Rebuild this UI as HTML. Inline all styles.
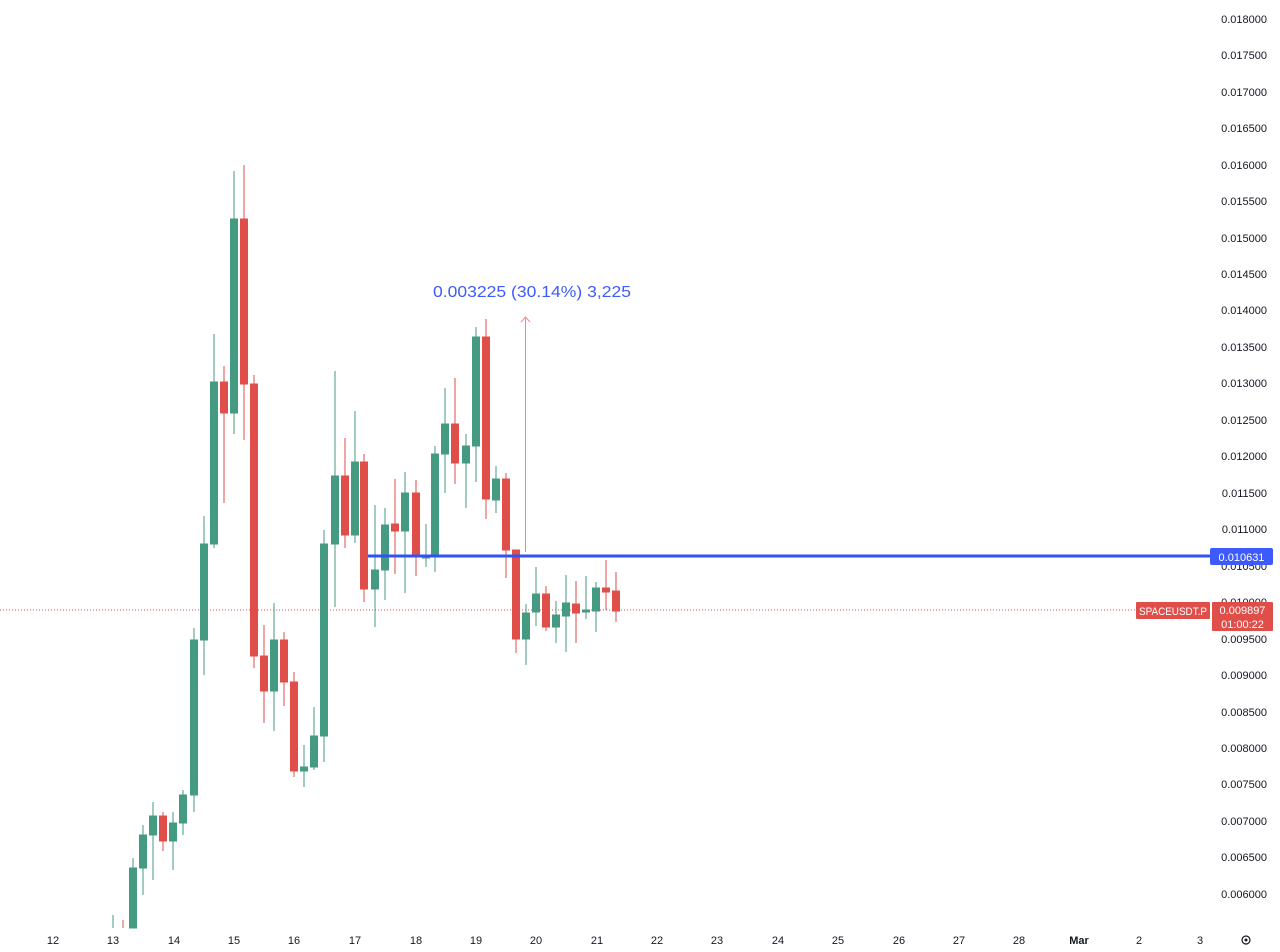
<!DOCTYPE html>
<html><head><meta charset="utf-8"><style>
html,body{margin:0;padding:0;background:#fff;}
svg{display:block;font-family:"Liberation Sans",sans-serif;}
</style></head><body>
<svg width="1280" height="952" viewBox="0 0 1280 952" xmlns="http://www.w3.org/2000/svg">
<rect width="1280" height="952" fill="#fff"/>
<g font-size="11" fill="#131722" text-anchor="end">
<text x="1267" y="23">0.018000</text>
<text x="1267" y="59">0.017500</text>
<text x="1267" y="96">0.017000</text>
<text x="1267" y="132">0.016500</text>
<text x="1267" y="169">0.016000</text>
<text x="1267" y="205">0.015500</text>
<text x="1267" y="242">0.015000</text>
<text x="1267" y="278">0.014500</text>
<text x="1267" y="314">0.014000</text>
<text x="1267" y="351">0.013500</text>
<text x="1267" y="387">0.013000</text>
<text x="1267" y="424">0.012500</text>
<text x="1267" y="460">0.012000</text>
<text x="1267" y="497">0.011500</text>
<text x="1267" y="533">0.011000</text>
<text x="1267" y="570">0.010500</text>
<text x="1267" y="606">0.010000</text>
<text x="1267" y="643">0.009500</text>
<text x="1267" y="679">0.009000</text>
<text x="1267" y="716">0.008500</text>
<text x="1267" y="752">0.008000</text>
<text x="1267" y="788">0.007500</text>
<text x="1267" y="825">0.007000</text>
<text x="1267" y="861">0.006500</text>
<text x="1267" y="898">0.006000</text>
</g>
<g font-size="11" fill="#131722" text-anchor="middle">
<text x="53" y="944">12</text><text x="113" y="944">13</text><text x="174" y="944">14</text>
<text x="234" y="944">15</text><text x="294" y="944">16</text><text x="355" y="944">17</text>
<text x="416" y="944">18</text><text x="476" y="944">19</text><text x="536" y="944">20</text>
<text x="597" y="944">21</text><text x="657" y="944">22</text><text x="717" y="944">23</text>
<text x="778" y="944">24</text><text x="838" y="944">25</text><text x="899" y="944">26</text>
<text x="959" y="944">27</text><text x="1019" y="944">28</text>
<text x="1079" y="944" font-weight="bold">Mar</text>
<text x="1139" y="944">2</text><text x="1200" y="944">3</text>
</g>
<circle cx="1246" cy="940" r="4" fill="none" stroke="#131722" stroke-width="1.2"/>
<circle cx="1246" cy="940" r="1.5" fill="#131722"/>
<line x1="0" y1="610" x2="1135" y2="610" stroke="#e04e4a" stroke-width="1" stroke-dasharray="1,2"/>
<g stroke="#459a82" fill="#459a82">
<line x1="113" y1="915" x2="113" y2="928"/>
<line x1="133" y1="858" x2="133" y2="928"/><rect x="129.5" y="868" width="7" height="60"/>
<line x1="143" y1="825" x2="143" y2="895"/><rect x="139.5" y="835" width="7" height="33"/>
<line x1="153" y1="802" x2="153" y2="880"/><rect x="149.5" y="816" width="7" height="19"/>
<line x1="173" y1="812" x2="173" y2="870"/><rect x="169.5" y="823" width="7" height="18"/>
<line x1="183" y1="790" x2="183" y2="835"/><rect x="179.5" y="795" width="7" height="28"/>
<line x1="194" y1="628" x2="194" y2="812"/><rect x="190.5" y="640" width="7" height="155"/>
<line x1="204" y1="516" x2="204" y2="675"/><rect x="200.5" y="544" width="7" height="96"/>
<line x1="214" y1="334" x2="214" y2="548"/><rect x="210.5" y="382" width="7" height="162"/>
<line x1="234" y1="171" x2="234" y2="434"/><rect x="230.5" y="219" width="7" height="194"/>
<line x1="274" y1="603" x2="274" y2="731"/><rect x="270.5" y="640" width="7" height="51"/>
<line x1="304" y1="745" x2="304" y2="787"/><rect x="300.5" y="767" width="7" height="4"/>
<line x1="314" y1="707" x2="314" y2="770"/><rect x="310.5" y="736" width="7" height="31"/>
<line x1="324" y1="530" x2="324" y2="762"/><rect x="320.5" y="544" width="7" height="192"/>
<line x1="335" y1="371" x2="335" y2="607"/><rect x="331.5" y="476" width="7" height="68"/>
<line x1="355" y1="411" x2="355" y2="543"/><rect x="351.5" y="462" width="7" height="73"/>
<line x1="375" y1="505" x2="375" y2="627"/><rect x="371.5" y="570" width="7" height="19"/>
<line x1="385" y1="508" x2="385" y2="600"/><rect x="381.5" y="525" width="7" height="45"/>
<line x1="405" y1="472" x2="405" y2="593"/><rect x="401.5" y="493" width="7" height="38"/>
<line x1="426" y1="524" x2="426" y2="567"/><rect x="422.5" y="556" width="7" height="2"/>
<line x1="435" y1="446" x2="435" y2="572"/><rect x="431.5" y="454" width="7" height="103"/>
<line x1="445" y1="388" x2="445" y2="493"/><rect x="441.5" y="424" width="7" height="30"/>
<line x1="466" y1="434" x2="466" y2="508"/><rect x="462.5" y="446" width="7" height="17"/>
<line x1="476" y1="327" x2="476" y2="482"/><rect x="472.5" y="337" width="7" height="109"/>
<line x1="496" y1="466" x2="496" y2="513"/><rect x="492.5" y="479" width="7" height="21"/>
<line x1="526" y1="604" x2="526" y2="665"/><rect x="522.5" y="613" width="7" height="26"/>
<line x1="536" y1="567" x2="536" y2="626"/><rect x="532.5" y="594" width="7" height="18"/>
<line x1="556" y1="601" x2="556" y2="643"/><rect x="552.5" y="615" width="7" height="12"/>
<line x1="566" y1="575" x2="566" y2="652"/><rect x="562.5" y="603" width="7" height="13"/>
<line x1="586" y1="576" x2="586" y2="619"/><rect x="582.5" y="610" width="7" height="2"/>
<line x1="596" y1="582" x2="596" y2="632"/><rect x="592.5" y="588" width="7" height="23"/>
</g>
<g stroke="#e04e4a" fill="#e04e4a">
<line x1="123" y1="920" x2="123" y2="928"/>
<line x1="163" y1="812" x2="163" y2="851"/><rect x="159.5" y="816" width="7" height="25"/>
<line x1="224" y1="366" x2="224" y2="503"/><rect x="220.5" y="382" width="7" height="31"/>
<line x1="244" y1="165" x2="244" y2="440"/><rect x="240.5" y="219" width="7" height="165"/>
<line x1="254" y1="375" x2="254" y2="668"/><rect x="250.5" y="384" width="7" height="272"/>
<line x1="264" y1="625" x2="264" y2="723"/><rect x="260.5" y="656" width="7" height="35"/>
<line x1="284" y1="632" x2="284" y2="706"/><rect x="280.5" y="640" width="7" height="42"/>
<line x1="294" y1="672" x2="294" y2="777"/><rect x="290.5" y="682" width="7" height="89"/>
<line x1="345" y1="438" x2="345" y2="548"/><rect x="341.5" y="476" width="7" height="59"/>
<line x1="364" y1="454" x2="364" y2="602"/><rect x="360.5" y="462" width="7" height="127"/>
<line x1="395" y1="479" x2="395" y2="574"/><rect x="391.5" y="524" width="7" height="7"/>
<line x1="416" y1="480" x2="416" y2="576"/><rect x="412.5" y="493" width="7" height="64"/>
<line x1="455" y1="378" x2="455" y2="484"/><rect x="451.5" y="424" width="7" height="39"/>
<line x1="486" y1="319" x2="486" y2="519"/><rect x="482.5" y="337" width="7" height="162"/>
<line x1="506" y1="473" x2="506" y2="578"/><rect x="502.5" y="479" width="7" height="71"/>
<line x1="516" y1="550" x2="516" y2="653"/><rect x="512.5" y="550" width="7" height="89"/>
<line x1="546" y1="586" x2="546" y2="631"/><rect x="542.5" y="594" width="7" height="33"/>
<line x1="576" y1="581" x2="576" y2="643"/><rect x="572.5" y="604" width="7" height="9"/>
<line x1="606" y1="560" x2="606" y2="610"/><rect x="602.5" y="588" width="7" height="4"/>
<line x1="616" y1="572" x2="616" y2="622"/><rect x="612.5" y="591" width="7" height="20"/>
</g>
<line x1="368" y1="556" x2="1210" y2="556" stroke="#3352f5" stroke-width="3"/>
<line x1="525.5" y1="552" x2="525.5" y2="317" stroke="#ef8a87" stroke-width="1"/>
<polyline points="521,322 525.5,317 530,322" fill="none" stroke="#ef8a87" stroke-width="1"/>
<text x="433" y="297" font-size="16" fill="#3d5afe" textLength="198" lengthAdjust="spacingAndGlyphs">0.003225 (30.14%) 3,225</text>
<rect x="1210" y="548" width="63" height="17" rx="2" fill="#3d5afe"/>
<text x="1241.5" y="561" font-size="11" fill="#fff" text-anchor="middle">0.010631</text>
<rect x="1136" y="602" width="74" height="17" rx="1" fill="#e04e4a"/>
<text x="1139" y="615" font-size="11" fill="#fff" textLength="68" lengthAdjust="spacingAndGlyphs">SPACEUSDT.P</text>
<rect x="1212" y="602" width="61" height="29" rx="1" fill="#e04e4a"/>
<text x="1242.5" y="614" font-size="11" fill="#fff" text-anchor="middle">0.009897</text>
<text x="1242.5" y="628" font-size="11" fill="#fff" text-anchor="middle">01:00:22</text>
</svg>
</body></html>
